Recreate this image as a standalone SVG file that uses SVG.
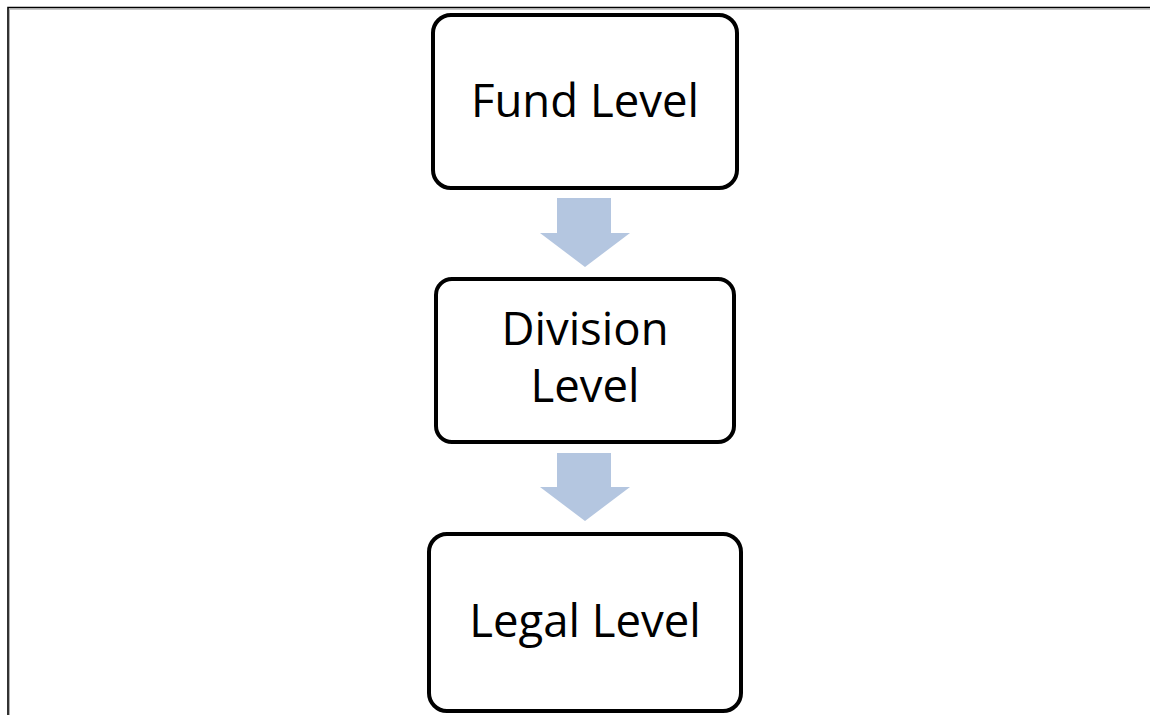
<svg xmlns="http://www.w3.org/2000/svg" width="1150" height="715" viewBox="0 0 1150 715">
<style>
.box{fill:#fff;stroke:#000;stroke-width:4}
.lbl{font-family:"Open Sans","Noto Sans",sans-serif;font-size:45.5px;fill:#000;text-anchor:middle}
.arr{fill:#B4C6E0}
</style>
<rect width="1150" height="715" fill="#fff"/>
<g id="frame">
<path d="M9.5,715 V9.2 H1150" fill="none" stroke="#b0b0b0" stroke-width="1"/>
<path d="M8,715 V7.5 H1150" fill="none" stroke="#000" stroke-width="1.6"/>
</g>
<g id="connectors">
<path class="arr" d="M557,198 H611 V233 H630 L585,267 L540,233 H557 Z"/>
<path class="arr" d="M557,453 H611 V487 H630 L585,521 L540,487 H557 Z"/>
</g>
<g id="fund">
<rect class="box" x="433" y="15" width="304" height="173" rx="18"/>
<text class="lbl" x="585" y="117">Fund Level</text>
</g>
<g id="division">
<rect class="box" x="436" y="279" width="298" height="163" rx="16"/>
<text class="lbl" x="585" y="345">Division</text>
<text class="lbl" x="585" y="402">Level</text>
</g>
<g id="legal">
<rect class="box" x="429" y="534" width="312" height="177" rx="18"/>
<text class="lbl" x="585" y="637">Legal Level</text>
</g>
</svg>
